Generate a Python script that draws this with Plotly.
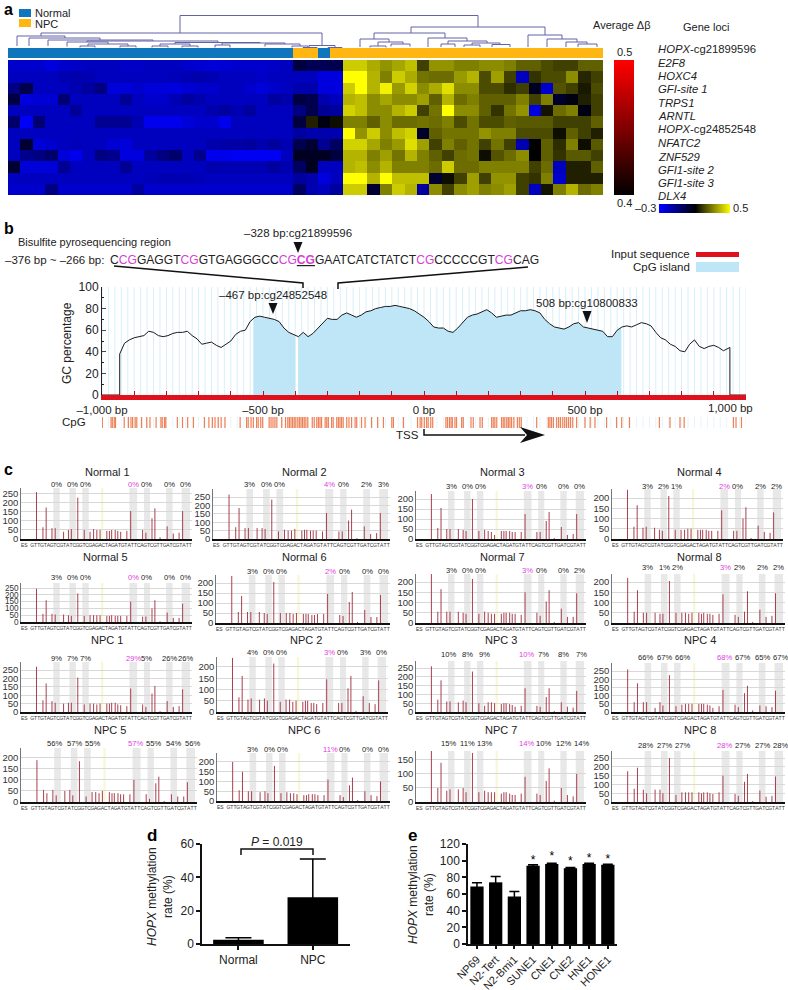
import numpy as np
import plotly.graph_objects as go

W = 788
H = 990
FONT = "Liberation Sans"
INK = "#222222"

# ---- panel a: heat map values (blue block, dark block, yellow block)
heat_loci = ["<i>HOPX</i>-cg21899596", "<i>E2F8</i>", "<i>HOXC4</i>", "<i>GFI-site 1</i>", "<i>TRPS1</i>", "<i>ARNTL</i>",
             "<i>HOPX</i>-cg24852548", "<i>NFATC2</i>", "<i>ZNF529</i>", "<i>GFI1-site 2</i>", "<i>GFI1-site 3</i>", "<i>DLX4</i>"]
heat_blue = [
    [-.22, -.22, -.22, -.25, -.22, -.21, -.2, -.2, -.2, -.21, -.21, -.2, -.2, -.2, -.22, -.23, -.24, -.23, -.22, -.22, -.22, -.21, -.2],
    [-.2, -.2, -.2, -.2, -.18, -.17, -.18, -.2, -.2, -.2, -.2, -.2, -.2, -.19, -.18, -.17, -.18, -.2, -.2, -.2, -.21, -.2, -.2],
    [-.1, -.02, -.2, -.2, -.2, -.18, -.15, -.1, -.24, -.24, -.22, -.24, -.24, -.25, -.23, -.22, -.22, -.2, -.2, -.22, -.24, -.22, -.2],
    [0, -.25, -.23, -.23, -.08, -.2, -.2, -.2, -.2, -.13, -.2, -.22, -.22, -.18, -.15, -.17, -.2, -.2, -.2, -.2, -.2, -.15, -.17],
    [-.2, -.2, -.2, -.2, -.2, -.14, -.2, -.2, -.2, -.2, -.2, -.2, -.2, -.2, -.2, -.2, -.17, -.15, -.18, -.15, -.2, -.2, -.2],
    [-.07, -.29, -.08, -.2, -.2, -.2, -.2, -.13, -.13, -.13, -.18, -.27, -.27, -.27, -.24, -.22, -.22, -.27, -.2, -.2, -.2, -.2, -.2],
    [-.2, -.2, -.2, -.2, -.2, -.2, -.2, -.2, -.2, -.2, -.2, -.2, -.2, -.2, -.2, -.2, -.2, -.2, -.2, -.2, -.2, -.2, -.2],
    [-.2, .02, -.24, -.22, -.2, -.19, -.2, -.2, -.23, -.24, -.2, -.2, -.2, -.2, -.2, -.2, -.17, -.16, -.16, -.15, -.17, -.15, -.18],
    [-.2, -.12, -.1, -.07, -.24, -.27, -.2, -.1, -.12, -.25, -.25, -.15, -.1, -.07, -.2, -.12, -.27, -.27, -.28, -.28, -.28, -.28, -.2],
    [.02, -.24, -.24, -.24, -.13, -.2, -.2, -.2, -.2, -.13, -.2, -.2, -.2, -.2, -.2, -.2, -.17, -.18, -.18, -.18, -.18, -.15, -.18],
    [-.2, -.2, -.2, -.2, -.2, -.2, -.2, -.2, -.2, -.2, -.2, -.19, -.18, -.18, -.18, -.19, -.2, -.2, -.2, -.2, -.2, -.2, -.2],
    [-.22, -.22, -.22, -.1, -.22, -.22, -.22, -.22, -.22, -.22, -.15, -.22, -.22, -.22, -.22, -.22, -.22, -.22, -.22, -.22, -.22, -.22, -.22],
]
heat_dark = [
    [0, -.03, -.03, -.02], [-.2, -.2, -.25, -.25], [-.17, -.17, -.25, -.25], [0, -.02, -.17, -.2],
    [-.1, -.02, -.13, -.15], [0, .15, .07, .12], [-.15, -.17, -.17, -.17], [-.02, .02, -.13, -.05],
    [.05, .05, .05, 0], [-.05, .05, -.2, -.2], [-.15, -.17, -.25, -.2], [-.05, -.18, -.2, -.15],
]
heat_yellow = [
    [.42, .42, .37, .33, .36, .40, .20, .33, .33, .30, .30, .32, .32, .30, .25, .25, .22, .20, .20, .25, .25],
    [.5, .5, .38, .30, .42, .37, .28, .27, .27, .34, .38, .22, .35, .20, -.2, .18, .22, .22, .32, .16, .2],
    [.42, .5, .38, .48, .34, .43, .32, .37, .45, .32, .32, .22, .22, .17, .2, .05, -.22, .23, .2, .14, .22],
    [.38, .4, .32, .36, .32, .32, .35, .25, .38, .27, .3, .25, .25, .25, .3, .2, .3, .03, .07, .15, .2],
    [.43, .4, .32, .32, .38, .42, .2, .28, .5, .32, .32, .25, .18, .28, .33, -.25, .13, .27, .3, .07, .2],
    [.3, .3, .25, .32, .27, .27, .28, .27, .3, .22, .28, .22, .22, .25, .24, .24, .24, .2, .2, .2, .25],
    [.5, .33, .42, .32, .4, .43, .03, .25, .28, .28, .28, .33, .3, .3, .22, .22, .22, .12, .25, .2, .15],
    [.43, .43, .36, .3, .34, .45, .35, .2, .3, .25, .28, .2, .28, .2, -.18, .1, .25, .17, .3, .12, .24],
    [.38, .38, .3, .35, .28, .38, .3, .25, .2, .27, .28, .12, .23, .27, .32, .1, .25, .18, .24, .24, .2],
    [.38, .4, .32, .38, .3, .3, .3, .27, .42, .27, .27, .3, .3, .3, .3, .2, .27, -.2, .15, .15, .25],
    [.5, .5, .38, .5, .4, .4, .4, .02, .12, .2, .35, .2, .33, .33, .2, .18, .3, -.22, .15, .15, .15],
    [.42, .42, .02, .3, .42, .38, -.15, .32, .2, .32, .35, .3, .32, .35, .2, -.2, .13, .3, .38, .27, .3],
]
sample_group = [0] * 23 + [1] * 2 + [0] + [1] * 22
red_scale_levels = [.40, .41, .42, .43, .44, .45, .46, .47, .48, .49, .50]
blue_yellow_levels = [-.3, -.2, -.1, 0, .1, .2, .3, .4, .5]

# dendrogram links: left x, right x, top height, left foot, right foot
dendro_links = [
    (172, 470, 32.5, 15, 21), (33, 314, 15, 12, 2.5), (9, 57, 12, 2, 10), (21, 92, 10, 2, 8), (40, 145, 8, 2, 7),
    (79, 210, 7, 6, 5.5), (59, 100, 6, 1.5, 4), (80, 120, 4, 2, 2), (72, 87, 2, .5, .5), (112, 128, 2, .5, .5),
    (167, 252, 5.5, 4, 5), (152, 182, 4, 2, 2), (144, 160, 2, .5, .5), (174, 190, 2, .5, .5), (214, 277, 5, 3, 4),
    (207, 222, 3, .5, .5), (257, 292, 4, 1.5, 2), (284, 300, 2, .5, .5), (301, 327, 2.5, .5, .5), (295, 309, .5, 0, 0),
    (320, 334, .5, 0, 0), (403, 537, 21, 15, 13), (366, 437, 15, 9, 10), (352, 381, 9, 1, 6), (370, 395, 6, 2, 4),
    (383, 402, 4, 1.5, 1.5), (362, 378, 2, .5, .5), (420, 459, 10, 1, 7), (440, 479, 7, 4, 5), (433, 447, 4, 1, 1),
    (464, 492, 5, 3, 3.5), (456, 472, 3, 1, 1), (484, 502, 3.5, 1, 1), (520, 554, 13, 1, 9), (539, 569, 9, 1, 6),
    (558, 579, 6, 1, 4), (570, 589, 4, 1, 1),
]

# ---- panel b
gc_bp = list(range(-945, 946, 15))
gc_pct = [38, 48, 51, 53, 54, 55, 59, 58, 55, 54, 55, 57, 58, 58, 59, 55, 52, 47, 48, 49, 46, 44, 47, 50, 56, 59, 60, 68,
          72, 73, 72, 71, 70, 68, 62, 58, 56, 54, 58, 54, 57, 62, 66, 71, 70, 70, 74, 76, 74, 72, 74, 77, 78, 80, 81, 82,
          82, 83, 82, 81, 80, 78, 75, 72, 68, 63, 62, 62, 59, 58, 62, 67, 72, 74, 75, 77, 79, 76, 72, 73, 74, 74, 76, 78,
          78, 79, 78, 76, 70, 66, 63, 62, 61, 63, 66, 67, 63, 62, 61, 60, 59, 54, 54, 60, 63, 64, 63, 65, 67, 66, 64, 58,
          53, 51, 47, 45, 41, 40, 47, 51, 45, 43, 45, 46, 44, 41, 43]
island_ranges = [(-530, -400), (-391, 613)]
cpg_bp = [-999, -972, -968, -962, -958, -931, -918, -910, -905, -897, -892, -877, -861, -851, -832, -817, -813, -806, -802,
          -766, -750, -734, -716, -682, -668, -657, -649, -639, -630, -618, -571, -551, -546, -537, -530, -520, -515, -507,
          -501, -481, -475, -469, -463, -457, -442, -430, -423, -418, -413, -408, -403, -398, -392, -387, -382, -377, -372,
          -367, -361, -347, -341, -333, -328, -323, -318, -307, -302, -297, -287, -282, -271, -266, -261, -256, -251, -240,
          -233, -225, -214, -209, -194, -183, -163, -144, -126, -100, -95, -64, -20, -12, -7, 1, 8, 13, 21, 27, 68, 73, 79,
          84, 88, 96, 101, 117, 122, 146, 153, 174, 181, 210, 215, 220, 226, 241, 246, 251, 257, 262, 267, 272, 279, 290,
          296, 302, 350, 386, 391, 396, 402, 412, 418, 424, 431, 437, 443, 449, 455, 462, 474, 500, 516, 531, 567, 598,
          614, 638, 731, 764, 795, 808, 961, 969, 986]
seq_parts = [("C", 0), ("CG", 1), ("GAGGT", 0), ("CG", 1), ("GTGAGGGCC", 0), ("CG", 1), ("CG", 2), ("GAATCATCTATCT", 0),
             ("CG", 1), ("CCCCCGT", 0), ("CG", 1), ("CAG", 0)]

# ---- panel c
sequence = "ES GTTGTAGTCGTATCGGTCGAGACTAGATGTATTCAGTCGTTGATCGTATTC"
peak_pos = [4.8, 6.8, 7.8, 9.6, 10.6, 13.2, 14.7, 15.6, 17.6, 19.6, 21.4, 22.5, 23.5, 24.5, 26.6, 27.4, 28.1, 29.2, 30,
            30.9, 32.8, 34, 37.7, 38.7, 40.6, 41.5, 43.1, 45.3, 47.2, 49, 50.1]
cpg_bands = [(10, 12), (15, 17), (19, 21), (33.6, 36), (38.1, 40), (45, 47), (49.8, 52.4)]
yellow_band = (24.8, 25.5)
panel_names = ["Normal 1", "Normal 2", "Normal 3", "Normal 4", "Normal 5", "Normal 6", "Normal 7", "Normal 8",
               "NPC 1", "NPC 2", "NPC 3", "NPC 4", "NPC 5", "NPC 6", "NPC 7", "NPC 8"]
panel_pcts = [[0, 0, 0, 0, 0, 0, 0], [3, 0, 0, 4, 0, 2, 3], [3, 0, 0, 3, 0, 0, 0], [3, 2, 1, 2, 0, 2, 2],
              [3, 0, 0, 0, 0, 0, 0], [3, 0, 0, 2, 0, 0, 0], [3, 0, 0, 3, 0, 0, 2], [3, 1, 2, 3, 2, 2, 2],
              [9, 7, 7, 29, 5, 26, 26], [4, 0, 0, 3, 0, 3, 0], [10, 8, 9, 10, 7, 8, 7], [66, 67, 66, 68, 67, 65, 67],
              [56, 57, 55, 57, 55, 54, 56], [3, 0, 0, 11, 0, 0, 0], [15, 11, 13, 14, 10, 12, 14], [28, 27, 27, 28, 27, 27, 28]]
panel_peaks = [
    [260, 65, 175, 60, 60, 40, 50, 55, 230, 50, 40, 55, 50, 50, 45, 45, 50, 50, 45, 40, 45, 155, 50, 35, 115, 170, 10, 70, 30, 35, 155],
    [265, 70, 185, 65, 65, 65, 65, 60, 235, 45, 55, 50, 50, 60, 50, 55, 55, 50, 50, 50, 45, 155, 45, 45, 110, 175, 5, 75, 30, 35, 155],
    [225, 55, 155, 50, 50, 50, 45, 40, 200, 40, 45, 40, 35, 20, 40, 40, 40, 40, 35, 35, 35, 125, 35, 35, 90, 135, 5, 60, 20, 25, 125],
    [240, 60, 165, 55, 60, 55, 45, 40, 210, 45, 45, 45, 50, 50, 45, 45, 45, 45, 40, 40, 40, 140, 40, 40, 100, 155, 5, 65, 35, 30, 130],
    [245, 60, 160, 60, 55, 55, 50, 45, 210, 45, 50, 50, 50, 50, 45, 45, 50, 45, 45, 45, 45, 150, 40, 40, 100, 160, 5, 70, 30, 30, 135],
    [235, 55, 135, 55, 55, 55, 50, 45, 205, 50, 50, 50, 45, 50, 45, 45, 45, 40, 40, 45, 45, 145, 40, 35, 105, 155, 5, 65, 30, 30, 140],
    [240, 55, 165, 55, 55, 55, 50, 45, 215, 45, 55, 50, 45, 45, 45, 50, 50, 50, 45, 45, 40, 150, 50, 35, 105, 160, 5, 70, 30, 30, 145],
    [220, 55, 160, 50, 50, 50, 45, 45, 205, 50, 50, 50, 45, 50, 50, 45, 50, 45, 45, 40, 45, 140, 40, 30, 55, 155, 5, 65, 30, 35, 145],
    [270, 70, 170, 65, 55, 50, 55, 55, 205, 45, 50, 50, 45, 50, 50, 50, 55, 55, 45, 40, 35, 140, 45, 30, 110, 155, 5, 65, 30, 35, 135],
    [240, 65, 160, 55, 60, 55, 60, 50, 215, 45, 55, 55, 45, 50, 45, 50, 50, 40, 40, 35, 40, 145, 40, 40, 105, 160, 5, 70, 40, 35, 140],
    [260, 70, 180, 60, 60, 55, 65, 55, 230, 50, 35, 55, 55, 50, 45, 50, 50, 45, 40, 30, 35, 135, 35, 30, 85, 135, 5, 55, 30, 25, 120],
    [260, 60, 175, 60, 60, 25, 60, 40, 225, 35, 45, 50, 50, 50, 50, 50, 50, 45, 40, 25, 35, 135, 45, 30, 115, 160, 10, 40, 35, 30, 130],
    [190, 55, 40, 55, 30, 50, 55, 30, 185, 25, 45, 45, 40, 50, 45, 40, 40, 40, 35, 35, 35, 100, 35, 15, 85, 115, 5, 35, 25, 25, 90],
    [200, 55, 150, 50, 50, 45, 50, 40, 180, 40, 45, 40, 40, 35, 30, 30, 35, 35, 35, 30, 30, 110, 30, 20, 80, 120, 5, 50, 30, 25, 100],
    [185, 50, 140, 40, 45, 45, 50, 35, 175, 35, 40, 35, 35, 35, 30, 35, 35, 30, 25, 25, 30, 90, 30, 25, 75, 120, 5, 50, 25, 20, 100],
    [175, 75, 195, 70, 50, 70, 70, 50, 250, 40, 55, 55, 55, 55, 55, 50, 55, 55, 50, 45, 55, 150, 45, 35, 115, 160, 5, 65, 30, 35, 145],
]
panel_ymax = [283, 298, 240, 244, 287, 240, 239, 239, 298, 244, 290, 299, 245, 246, 182, 290]

# ---- panels d and e
d_groups = ["Normal", "NPC"]
d_values = [2.5, 28]
d_errors = [1.2, 23]
e_lines = ["NP69", "N2-Tert", "N2-Bmi1", "SUNE1", "CNE1", "CNE2", "HNE1", "HONE1"]
e_values = [69, 74, 57, 94, 96, 91, 96, 95]
e_errors = [4.5, 7, 6, 1, 1, 0.7, 1, 0.8]
e_star_level = [None, None, None, 100, 104, 98, 102, 101]

# page geometry of the small pyrograms: left, top, right, zero line, percent label y, title x, title y
panel_boxes = [
    (21, 488, 192, 539, 484, 107, 472), (213, 489, 390, 539, 484, 304, 472), (416, 491, 586, 539, 486, 502, 472),
    (612, 489, 783, 539, 486, 699, 472), (21, 583, 192, 622, 577, 105, 557), (216, 575, 390, 623, 571, 304, 557),
    (416, 574, 586, 623, 570, 502, 557), (612, 574, 785, 623, 567, 699, 557), (21, 662, 192, 712, 658, 107, 640),
    (217, 657, 388, 712, 652, 306, 640), (416, 661, 586, 712, 654, 501, 640), (612, 663, 785, 712, 657, 700, 640),
    (21, 748, 197, 802, 743, 110, 730), (217, 753, 390, 801, 749, 304, 730), (416, 751, 586, 802, 743, 501, 730),
    (612, 751, 785, 802, 745, 700, 730),
]
# percent labels of wide values sit a little off their band so they do not collide
wide_pct_shift = [-.8, 0, 1.5, -.3, .8, 0, .4]

traces = []
layout_axes = {}
annotations = []
shapes = []
axis_count = 0


def new_axes(x0, y0, x1, y1, xopts=None, yopts=None):
    global axis_count
    axis_count += 1
    n = axis_count
    base = dict(showgrid=False, zeroline=False, showticklabels=False, ticks="", showline=False, automargin=False)
    xa = dict(base, domain=[x0 / W, x1 / W], anchor="y%d" % n)
    ya = dict(base, domain=[1 - y1 / H, 1 - y0 / H], anchor="x%d" % n)
    xa.update(xopts or {})
    ya.update(yopts or {})
    layout_axes["xaxis%d" % n] = xa
    layout_axes["yaxis%d" % n] = ya
    return "x%d" % n, "y%d" % n


def label(x, y, text, size=11, anchor="center", color=INK, angle=0, **kw):
    annotations.append(dict(x=x, y=y, xref="x", yref="y", text=text, showarrow=False, xanchor=anchor, yanchor="middle",
                            textangle=angle, font=dict(family=FONT, size=size, color=color), **kw))


def line_px(xs, ys, width=1.5, color="#111111"):
    path = "M" + " L".join("%g,%g" % p for p in zip(xs, ys))
    shapes.append(dict(type="path", path=path, xref="x", yref="y", line=dict(color=color, width=width)))


def solid_px(xs, ys, color="#111111"):
    path = "M" + " L".join("%g,%g" % p for p in zip(xs, ys)) + " Z"
    shapes.append(dict(type="path", path=path, xref="x", yref="y", fillcolor=color, line=dict(width=0)))


def box_px(x0, y0, x1, y1, color):
    shapes.append(dict(type="rect", x0=x0, y0=y0, x1=x1, y1=y1, xref="x", yref="y", fillcolor=color, line=dict(width=0)))


# page overlay in pixels, used for texts and callouts
new_axes(0, 0, W, H, dict(range=[0, W], visible=False), dict(range=[H, 0], visible=False))

# ---------------- panel a
heat_z = [a + b + c for a, b, c in zip(heat_blue, heat_dark, heat_yellow)]
blue_black_yellow = [[0, "#0000ff"], [0.5, "#000000"], [1, "#ffff00"]]
xr, yr = new_axes(8, 60, 603, 195, dict(range=[-0.5, 47.5]), dict(range=[11.5, -0.5]))
traces.append(go.Heatmap(z=heat_z, colorscale=blue_black_yellow, zmin=-0.3, zmax=0.5, showscale=False, xaxis=xr, yaxis=yr,
                         hoverinfo="skip"))
xr, yr = new_axes(8, 48, 603, 58, dict(range=[-0.5, 47.5]), dict(range=[-0.5, 0.5]))
traces.append(go.Heatmap(z=[sample_group], colorscale=[[0, "#0f75bc"], [1, "#ffb612"]], zmin=0, zmax=1, showscale=False,
                         xaxis=xr, yaxis=yr, hoverinfo="skip"))

dx, dy = [], []
for xl, xh, top, foot_l, foot_r in dendro_links:
    dx += [xl, xl, xh, xh, None]
    dy += [foot_l, top, top, foot_r, None]
xr, yr = new_axes(8, 12, 603, 48, dict(range=[0, 595]), dict(range=[0, 36]))
traces.append(go.Scatter(x=dx, y=dy, mode="lines", line=dict(color="#6262a6", width=1), xaxis=xr, yaxis=yr, hoverinfo="skip"))

xr, yr = new_axes(614, 60, 634, 195, dict(range=[-0.5, 0.5]), dict(range=[.40, .50]))
traces.append(go.Heatmap(z=[[v] for v in red_scale_levels], y=red_scale_levels, x=[0],
                         colorscale=[[0, "#000000"], [1, "#ff0000"]], zsmooth="best", showscale=False, xaxis=xr, yaxis=yr,
                         hoverinfo="skip"))
xr, yr = new_axes(659, 204, 730, 213, dict(range=[-.3, .5]), dict(range=[-0.5, 0.5]))
traces.append(go.Heatmap(z=[blue_yellow_levels], x=blue_yellow_levels, y=[0], colorscale=blue_black_yellow, zmin=-.3, zmax=.5,
                         zsmooth="best", showscale=False, xaxis=xr, yaxis=yr, hoverinfo="skip"))

label(2, 9, "<b>a</b>", 16, "left", "#000000")
box_px(19, 9, 31, 17, "#0f75bc")
box_px(19, 19, 31, 27, "#ffb612")
label(33, 13, "Normal", 11, "left")
label(33, 24, "NPC", 11, "left")
label(622, 25, "Average Δβ", 11)
label(706, 27, "Gene loci", 11)
label(624, 52, "0.5", 11)
label(624, 203, "0.4", 11)
label(645, 208, "–0.3", 11)
label(740, 208, "0.5", 11)
for text, y in zip(heat_loci, [49, 63, 76, 89, 103, 116, 129, 143, 157, 170, 183, 196]):
    label(656, y, text, 11.3, "left")

# ---------------- panel b
label(2, 228, "<b>b</b>", 16, "left", "#000000")
label(16, 242, "Bisulfite pyrosequencing region", 11, "left")
label(298, 233, "–328 bp:cg21899596", 11.5)
solid_px([293.5, 302.5, 298], [242, 242, 253])
seq_html = ""
for part, kind in seq_parts:
    if kind == 0:
        seq_html += part
    elif kind == 1:
        seq_html += "<span style='color:#d63fd6'>%s</span>" % part
    else:
        seq_html += "<b><u><span style='color:#d63fd6'>%s</span></u></b>" % part
label(3, 260, "–376 bp ~ –266 bp:", 11.5, "left")
label(108, 260, seq_html, 12.1, "left")
line_px([114, 303, 303], [266, 283, 288])
line_px([528, 338, 338], [267, 283, 289])
label(692, 254, "Input sequence", 11.5, "right")
box_px(696, 252, 739, 257, "#e0101c")
label(692, 267, "CpG island", 11.5, "right")
box_px(696, 262, 739, 272, "#bfe6f7")

bp_ticks = list(range(-1000, 1001, 100))
bp_text = {-1000: "–1,000 bp", -500: "–500 bp", 0: "0 bp", 500: "500 bp"}
xr, yr = new_axes(102, 287, 746, 395,
                  dict(range=[-1000, 1000], showline=True, linecolor="#e0101c", linewidth=5, ticks="inside", ticklen=4,
                       tickcolor="#b81018", tickvals=bp_ticks, ticktext=[bp_text.get(v, "") for v in bp_ticks],
                       showticklabels=True, tickfont=dict(family=FONT, size=11.5, color=INK)),
                  dict(range=[0, 100], showline=True, linecolor="#222222", linewidth=1, ticks="inside", ticklen=4,
                       dtick=20, showticklabels=True, tickfont=dict(family=FONT, size=12, color=INK),
                       minor=dict(ticks="inside", dtick=10, ticklen=2, tickcolor="#222222")))
stripe_x, stripe_y = [], []
for v in range(-1000, 1001, 20):
    stripe_x += [v, v, None]
    stripe_y += [0, 100, None]
traces.append(go.Scatter(x=stripe_x, y=stripe_y, mode="lines", line=dict(color="#d8eff8", width=1), xaxis=xr, yaxis=yr,
                         hoverinfo="skip"))
for start, end in island_ranges:
    isl_x = [start] + [b for b in gc_bp if start < b < end] + [end]
    isl_y = list(np.interp(isl_x, gc_bp, gc_pct))
    traces.append(go.Scatter(x=isl_x, y=isl_y, mode="lines", line=dict(width=0), fill="tozeroy", fillcolor="#bfe6f7",
                             xaxis=xr, yaxis=yr, hoverinfo="skip"))
traces.append(go.Scatter(x=[-1000, -945] + gc_bp + [950, 950, 1000], y=[0, 0] + gc_pct + [44, 0, 0], mode="lines",
                         line=dict(color="#1a1a1a", width=1), xaxis=xr, yaxis=yr, hoverinfo="skip"))
label(730, 408, "1,000 bp", 11.5)
label(67, 343, "GC percentage", 12, angle=-90)
label(273, 295, "–467 bp:cg24852548", 11.5)
solid_px([268.5, 277.5, 273], [303, 303, 314])
label(587, 303, "508 bp:cg10800833", 11.5)
solid_px([582.5, 591.5, 587], [311, 311, 323])

xr, yr = new_axes(102, 417, 746, 428, dict(range=[-1000, 1000]), dict(range=[0, 1]))
stripe_y2 = []
for v in range(-1000, 1001, 20):
    stripe_y2 += [0, 1, None]
traces.append(go.Scatter(x=stripe_x, y=stripe_y2, mode="lines", line=dict(color="#e6f5fa", width=1), xaxis=xr, yaxis=yr,
                         hoverinfo="skip"))
cpg_x, cpg_y = [], []
for b in cpg_bp:
    cpg_x += [b, b, None]
    cpg_y += [0, 1, None]
traces.append(go.Scatter(x=cpg_x, y=cpg_y, mode="lines", line=dict(color="#ef7f55", width=1.2), xaxis=xr, yaxis=yr,
                         hoverinfo="skip"))
label(74, 422, "CpG", 11.5)
label(407, 435, "TSS", 11.5)
line_px([424, 424, 525], [429, 435, 435], 1.5)
solid_px([520, 545, 520, 527], [427, 435, 443, 435])

# ---------------- panel c
label(2, 469, "<b>c</b>", 16, "left", "#000000")
band_centers = [sum(b) / 2 for b in cpg_bands]
for i, name in enumerate(panel_names):
    left, top, right, zero, pct_y, title_x, title_y = panel_boxes[i]
    step_px = 50 * (zero - top) / panel_ymax[i]
    xr, yr = new_axes(left, top, right, zero,
                      dict(range=[0, 53], showline=True, linecolor="#111111", linewidth=1.5,
                           tickvals=[k + 0.5 for k in range(len(sequence))], ticktext=list(sequence), showticklabels=True,
                           tickfont=dict(family=FONT, size=5, color="#333333"), tickangle=0),
                      dict(range=[0, panel_ymax[i]], dtick=50, showgrid=True, gridcolor="#d8d8d8", gridwidth=0.7, showline=True,
                           linecolor="#777777", linewidth=0.7, showticklabels=True,
                           tickfont=dict(family=FONT, size=min(9.5, max(7.5, step_px * 1.2)), color="#333333")))
    for a, b in cpg_bands + [yellow_band]:
        shapes.append(dict(type="rect", xref=xr, yref=yr + " domain", x0=a, x1=b, y0=0, y1=1, layer="below", line=dict(width=0),
                           fillcolor="#f8f7d6" if (a, b) == yellow_band else "#e8e8e8"))
    stem_x, stem_y = [], []
    for pos, height in zip(peak_pos, panel_peaks[i]):
        stem_x += [pos, pos, None]
        stem_y += [0, height, None]
    traces.append(go.Scatter(x=stem_x, y=stem_y, mode="lines", line=dict(color="#a8404f", width=1), xaxis=xr, yaxis=yr,
                             hoverinfo="skip"))
    label(title_x, title_y, name, 11)
    wide = panel_pcts[i][0] >= 10
    for j, (pc, cx) in enumerate(zip(panel_pcts[i], band_centers)):
        annotations.append(dict(x=cx + (wide_pct_shift[j] if wide else 0), y=pct_y, xref=xr, yref="y", text="%d%%" % pc,
                                showarrow=False, font=dict(family=FONT, size=7.6, color="#e040e0" if j == 3 else INK)))

# ---------------- panel d
xr, yr = new_axes(202, 844, 350, 944,
                  dict(range=[-0.49, 1.5], showline=True, linecolor="#111111", linewidth=1.5, ticks="outside", ticklen=4,
                       tickwidth=1.5, tickcolor="#111111", showticklabels=True, tickvals=[0, 1], ticktext=d_groups,
                       tickfont=dict(family=FONT, size=12, color=INK)),
                  dict(range=[0, 60], showline=True, linecolor="#111111", linewidth=1.5, ticks="outside", ticklen=4, tickwidth=1.5,
                       tickcolor="#111111", dtick=20, showticklabels=True, tickfont=dict(family=FONT, size=12, color=INK)))
traces.append(go.Bar(x=[0, 1], y=d_values, width=0.68, marker=dict(color="#000000", line=dict(width=0)), xaxis=xr, yaxis=yr,
                     error_y=dict(type="data", array=d_errors, color="#000000", thickness=1.5, width=13), hoverinfo="skip"))
label(152, 835, "<b>d</b>", 17, "center", "#000000")
label(160, 897, "<i>HOPX</i> methylation<br>rate (%)", 12, angle=-90)
line_px([241, 241, 313, 313], [855, 849, 849, 855], 1.5)
label(277, 842, "<i>P</i> = 0.019", 12)

# ---------------- panel e
xr, yr = new_axes(468, 844, 617, 944,
                  dict(range=[-0.48, 7.49], showline=True, linecolor="#111111", linewidth=1.5, ticks="outside", ticklen=3,
                       tickwidth=1.5, tickcolor="#111111", showticklabels=True, tickvals=list(range(8)), ticktext=e_lines,
                       tickangle=-45, tickfont=dict(family=FONT, size=11, color=INK)),
                  dict(range=[0, 120], showline=True, linecolor="#111111", linewidth=1.5, ticks="outside", ticklen=4, tickwidth=1.5,
                       tickcolor="#111111", dtick=20, showticklabels=True, tickfont=dict(family=FONT, size=12, color=INK)))
traces.append(go.Bar(x=list(range(8)), y=e_values, width=0.71, marker=dict(color="#000000", line=dict(width=0)), xaxis=xr,
                     yaxis=yr, error_y=dict(type="data", array=e_errors, color="#000000", thickness=1.5, width=5),
                     hoverinfo="skip"))
traces.append(go.Scatter(x=list(range(8)), y=e_star_level, mode="text", text=["*" if s else "" for s in e_star_level],
                         textposition="middle center", textfont=dict(family=FONT, size=12, color="#000000"), xaxis=xr, yaxis=yr,
                         hoverinfo="skip"))
label(412, 835, "<b>e</b>", 17, "center", "#000000")
label(421, 895, "<i>HOPX</i> methylation<br>rate (%)", 12, angle=-90)

fig = go.Figure(data=traces)
fig.update_layout(width=W, height=H, margin=dict(l=0, r=0, t=0, b=0, autoexpand=False), paper_bgcolor="white",
                  plot_bgcolor="rgba(0,0,0,0)", showlegend=False, barmode="overlay", annotations=annotations, shapes=shapes,
                  font=dict(family=FONT, color=INK), **layout_axes)
fig.write_html("out.html", config=dict(displayModeBar=False), post_script="document.body.style.margin='0'")
